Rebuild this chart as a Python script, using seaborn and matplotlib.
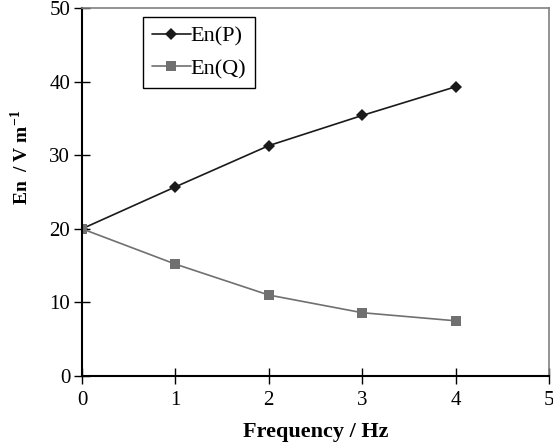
import matplotlib
matplotlib.use("Agg")
import matplotlib.pyplot as plt
import seaborn as sns
import pandas as pd

freq = [0, 1, 2, 3, 4]
en_p = [20.0, 25.7, 31.3, 35.4, 39.3]
en_q = [20.0, 15.2, 11.0, 8.6, 7.5]
xticks = [0, 1, 2, 3, 4, 5]
yticks = [0, 10, 20, 30, 40, 50]

sns.set_theme(style="white")
plt.rcParams['font.family'] = ['Liberation Serif', 'DejaVu Serif']
plt.rcParams['mathtext.fontset'] = 'custom'
plt.rcParams['mathtext.rm'] = 'Liberation Serif'
plt.rcParams['mathtext.bf'] = 'Liberation Serif:bold'
plt.rcParams['text.color'] = 'black'
plt.rcParams['axes.labelcolor'] = 'black'
plt.rcParams['xtick.color'] = 'black'
plt.rcParams['ytick.color'] = 'black'

fig = plt.figure(figsize=(5.53, 4.48), dpi=100)
ax = fig.add_axes([82/553, 1-376/448, (549-82)/553, (376-8)/448])

df = pd.DataFrame({"freq": freq, "P": en_p, "Q": en_q})
sns.lineplot(data=df, x="freq", y="P", ax=ax, color="#1a1a1a", marker="D",
             markersize=6, markeredgewidth=0, linewidth=1.2, label="En(P)")
sns.lineplot(data=df, x="freq", y="Q", ax=ax, color="#707070", marker="s",
             markersize=7, markeredgewidth=0, linewidth=1.2, label="En(Q)")

ax.set_xlim(0, 5)
ax.set_ylim(0, 50)
ax.set_xticks(xticks)
ax.set_yticks(yticks)
ax.tick_params(direction="inout", length=11, width=1, colors="black",
               labelsize=15, left=True, bottom=True)
ax.tick_params(axis="x", pad=5)
ax.tick_params(axis="y", pad=3)
for s in ["left", "bottom"]:
    ax.spines[s].set_color("black")
    ax.spines[s].set_linewidth(1.5)
for s in ["top", "right"]:
    ax.spines[s].set_color("#808080")
    ax.spines[s].set_linewidth(1.2)

ax.set_xlabel("Frequency / Hz", fontsize=16, fontweight="bold")
ax.xaxis.set_label_coords(0.5, (376-432)/368)
ax.xaxis.label.set_va("center")
ax.set_ylabel(r"En  / V m$^{\mathregular{-1}}$", fontsize=14, fontweight="bold")
ax.yaxis.set_label_coords((21-82)/467, (376-157)/368)
ax.yaxis.label.set_va("center")

leg = ax.legend(loc="upper left", bbox_to_anchor=((143-82)/467, (376-17)/368),
                fontsize=16, frameon=True, fancybox=False, edgecolor="black",
                framealpha=1, handlelength=1.75, handletextpad=0.0,
                borderpad=0.4, labelspacing=0.55, borderaxespad=0)
leg.get_frame().set_linewidth(1.0)

fig.savefig("out.png", dpi=100)
